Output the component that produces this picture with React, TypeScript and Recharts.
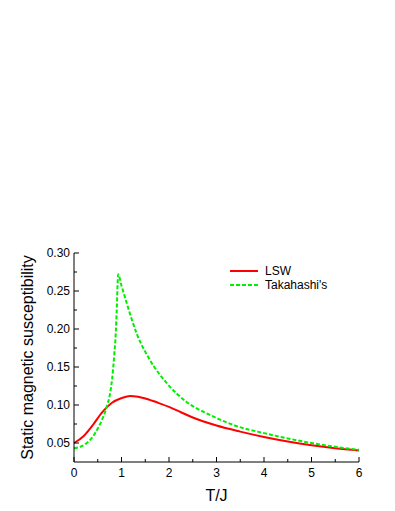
import React from 'react';
import { LineChart, Line, XAxis, YAxis, Legend, Label } from 'recharts';

const lswT = [0, 0.2, 0.4, 0.6, 0.8, 1.0, 1.18, 1.35, 1.5, 1.65, 1.8, 2.0, 2.25, 2.5, 3.0, 3.5, 4.0, 4.5, 5.0, 5.5, 6.0];
const lswChi = [0.05, 0.059, 0.074, 0.091, 0.103, 0.109, 0.112, 0.1108, 0.1085, 0.1055, 0.1022, 0.0975, 0.0905, 0.0835, 0.073, 0.065, 0.058, 0.052, 0.047, 0.043, 0.04];

const takT = [0, 0.25, 0.5, 0.7, 0.75, 0.8, 0.85, 0.88, 0.9, 0.93, 1.0, 1.11, 1.32, 1.6, 1.95, 2.37, 2.86, 3.46, 4.0, 4.5, 5.0, 5.5, 6.0];
const takChi = [0.043, 0.049, 0.069, 0.1, 0.112, 0.133, 0.168, 0.195, 0.225, 0.272, 0.257, 0.234, 0.194, 0.159, 0.129, 0.104, 0.087, 0.0715, 0.063, 0.056, 0.05, 0.045, 0.041];

const xTicks = [0, 0.5, 1, 1.5, 2, 2.5, 3, 3.5, 4, 4.5, 5, 5.5, 6];
const yTicks = [0.025, 0.05, 0.075, 0.1, 0.125, 0.15, 0.175, 0.2, 0.225, 0.25, 0.275, 0.3];

const lswData = lswT.map((t, i) => ({ t, chi: lswChi[i] }));
const takData = takT.map((t, i) => ({ t, chi: takChi[i] }));

const FONT = 'Liberation Sans, Arial, sans-serif';
const GAP = 5;
const isMajorX = (v: number) => Math.abs(v - Math.round(v)) < 1e-6;
const isMajorY = (v: number) => Math.abs(v * 20 - Math.round(v * 20)) < 1e-6 && v > 0.03;

const BottomTick = (p: any) => {
  const v = p.payload.value;
  const major = isMajorX(v);
  const base = p.y - GAP;
  return (
    <g>
      <line x1={p.x} x2={p.x} y1={base} y2={base - (major ? 5 : 3)} stroke="#000" />
      {major && (
        <text x={p.x} y={base + 15} textAnchor="middle" fontSize={12} fontFamily={FONT} fill="#000">
          {v}
        </text>
      )}
    </g>
  );
};

const TopTick = (p: any) => {
  const v = p.payload.value;
  const base = p.y + GAP;
  return <line x1={p.x} x2={p.x} y1={base} y2={base + (isMajorX(v) ? 5 : 3)} stroke="#000" />;
};

const LeftTick = (p: any) => {
  const v = p.payload.value;
  const major = isMajorY(v);
  const base = p.x + GAP;
  if (v < 0.03) return <g />;
  return (
    <g>
      <line x1={base} x2={base + (major ? 5 : 3)} y1={p.y} y2={p.y} stroke="#000" />
      {major && (
        <text x={base - 4} y={p.y + 4} textAnchor="end" fontSize={12} fontFamily={FONT} fill="#000">
          {v.toFixed(2)}
        </text>
      )}
    </g>
  );
};

const RightTick = (p: any) => {
  const v = p.payload.value;
  const base = p.x - GAP;
  if (v < 0.03) return <g />;
  return <line x1={base} x2={base - (isMajorY(v) ? 5 : 3)} y1={p.y} y2={p.y} stroke="#000" />;
};

const LegendBox = (props: any) => (
  <div style={{ fontFamily: FONT, fontSize: 12, color: '#000' }}>
    {props.payload.map((e: any) => (
      <div key={e.value} style={{ display: 'flex', alignItems: 'center', height: 14 }}>
        <svg width={30} height={10}>
          <line x1={1} x2={29} y1={5} y2={5} stroke={e.color} strokeWidth={2} strokeDasharray={e.payload.strokeDasharray} />
        </svg>
        <span style={{ marginLeft: 6 }}>{e.value}</span>
      </div>
    ))}
  </div>
);

export default function App() {
  return (
    <div style={{ position: 'absolute', left: 0, top: 0, width: 395, height: 511, background: '#fff' }}>
      <LineChart width={395} height={511} margin={{ top: 253, right: 36, left: 0, bottom: 0 }}>
        <XAxis
          xAxisId={0}
          dataKey="t"
          type="number"
          domain={[0, 6]}
          ticks={xTicks}
          interval={0}
          allowDuplicatedCategory={false}
          height={49}
          tickSize={0}
          tickMargin={GAP}
          tickLine={false}
          tick={BottomTick}
          axisLine={{ stroke: '#000' }}
        >
          <Label
            content={(lp: any) => {
              const vb = lp.viewBox;
              return (
                <text x={vb.x + vb.width / 2} y={vb.y + 39} textAnchor="middle" fontSize={16} fontFamily={FONT} fill="#000">
                  T/J
                </text>
              );
            }}
          />
        </XAxis>
        <XAxis
          xAxisId="top"
          orientation="top"
          dataKey="t"
          type="number"
          domain={[0, 6]}
          ticks={xTicks}
          interval={0}
          height={0}
          tickSize={0}
          tickMargin={GAP}
          tickLine={false}
          tick={TopTick}
          axisLine={{ stroke: '#000' }}
        />
        <YAxis
          yAxisId={0}
          type="number"
          domain={[0.025, 0.3]}
          ticks={yTicks}
          interval={0}
          width={74}
          tickSize={0}
          tickMargin={GAP}
          tickLine={false}
          tick={LeftTick}
          axisLine={{ stroke: '#000' }}
        >
          <Label
            content={(lp: any) => {
              const vb = lp.viewBox;
              const cx = 27;
              const cy = vb.y + vb.height / 2;
              return (
                <text
                  x={cx}
                  y={cy}
                  transform={`rotate(-90 ${cx} ${cy})`}
                  textAnchor="middle"
                  dominantBaseline="central"
                  fontSize={16}
                  fontFamily={FONT}
                  fill="#000"
                >
                  Static magnetic susceptibility
                </text>
              );
            }}
          />
        </YAxis>
        <YAxis
          yAxisId="right"
          orientation="right"
          type="number"
          domain={[0.025, 0.3]}
          ticks={yTicks}
          interval={0}
          width={0}
          tickSize={0}
          tickMargin={GAP}
          tickLine={false}
          tick={RightTick}
          axisLine={{ stroke: '#000' }}
        />
        <Legend
          layout="horizontal"
          verticalAlign="middle"
          align="center"
          content={LegendBox}
          wrapperStyle={{ top: 264, left: 229, width: 130 }}
        />
        <Line
          data={lswData}
          dataKey="chi"
          name="LSW"
          type="monotone"
          stroke="#ff0000"
          strokeWidth={2}
          dot={false}
          activeDot={false}
          isAnimationActive={false}
        />
        <Line
          data={takData}
          dataKey="chi"
          name="Takahashi's"
          type="monotone"
          stroke="#00ee00"
          strokeWidth={2}
          strokeDasharray="4 2"
          dot={false}
          activeDot={false}
          isAnimationActive={false}
        />
      </LineChart>
    </div>
  );
}
